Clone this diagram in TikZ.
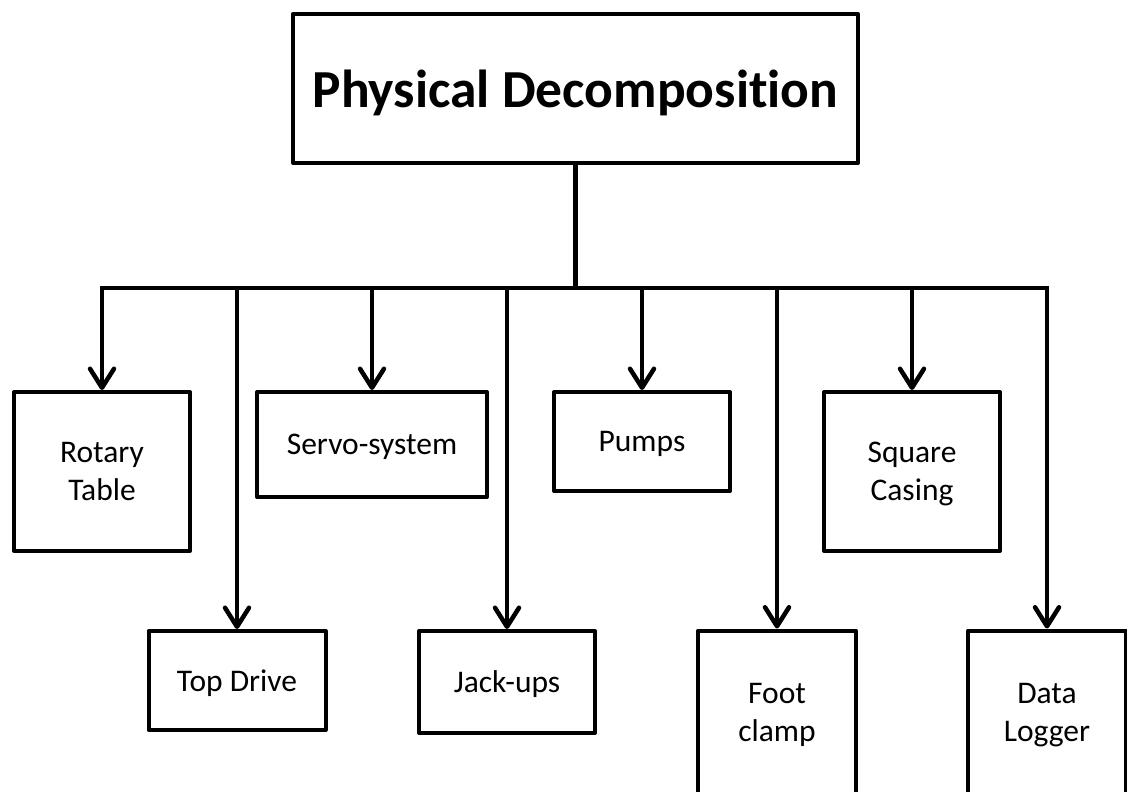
\documentclass[tikz,border=0pt]{standalone}
\usepackage{fontspec}
\setmainfont{Carlito}[Ligatures=NoCommon]
\usetikzlibrary{arrows.meta}
\begin{document}
\begin{tikzpicture}[x=1pt,y=-1pt,
  box/.style={draw=black,line width=4pt,line join=round,fill=white,inner sep=0pt,align=center,
    text depth=0pt,font=\fontsize{31.5}{38}\selectfont},
  titlebox/.style={box,font=\fontsize{53.5}{60}\selectfont\bfseries},
  link/.style={draw=black,line width=4.5pt},
  arr/.style={link,-{Straight Barb[length=19pt,width=24pt,line width=4.5pt,round]}}]
\useasboundingbox (0,0) rectangle (1127,792);
\clip (0,0) rectangle (1127,792);
\fill[white] (0,0) rectangle (1127,792);
% nodes
\node[titlebox,minimum width=565pt,minimum height=149pt] (top) at (575.5,88.5) {Physical Decomposition};
\node[box,minimum width=176pt,minimum height=159pt] (rot) at (102,471.5) {Rotary\\Table};
\node[box,minimum width=230pt,minimum height=105pt] (servo) at (372,444.5) {Servo-system};
\node[box,minimum width=176pt,minimum height=99pt] (pump) at (642,441.5) {Pumps};
\node[box,minimum width=176pt,minimum height=159pt] (sq) at (912,471.5) {Square\\Casing};
\node[box,minimum width=177pt,minimum height=99pt] (td) at (237,680.5) {Top Drive};
\node[box,minimum width=176pt,minimum height=102pt] (jack) at (507,682) {Jack-ups};
\node[box,minimum width=158pt,minimum height=163pt] (foot) at (777,712) {Foot\\clamp};
\node[box,minimum width=158pt,minimum height=163pt] (data) at (1047,712) {Data\\Logger};
% bus
\coordinate (bl) at (102,288);
\coordinate (br) at (1047,288);
\draw[link,line cap=rect] (bl) -- (br);
\draw[link] (top.south) -- (top.south |- bl);
% arrows
\foreach \n in {rot,td,servo,jack,pump,foot,sq,data}{
  \draw[arr] (\n.north |- bl) -- (\n.north);
}
\end{tikzpicture}
\end{document}
